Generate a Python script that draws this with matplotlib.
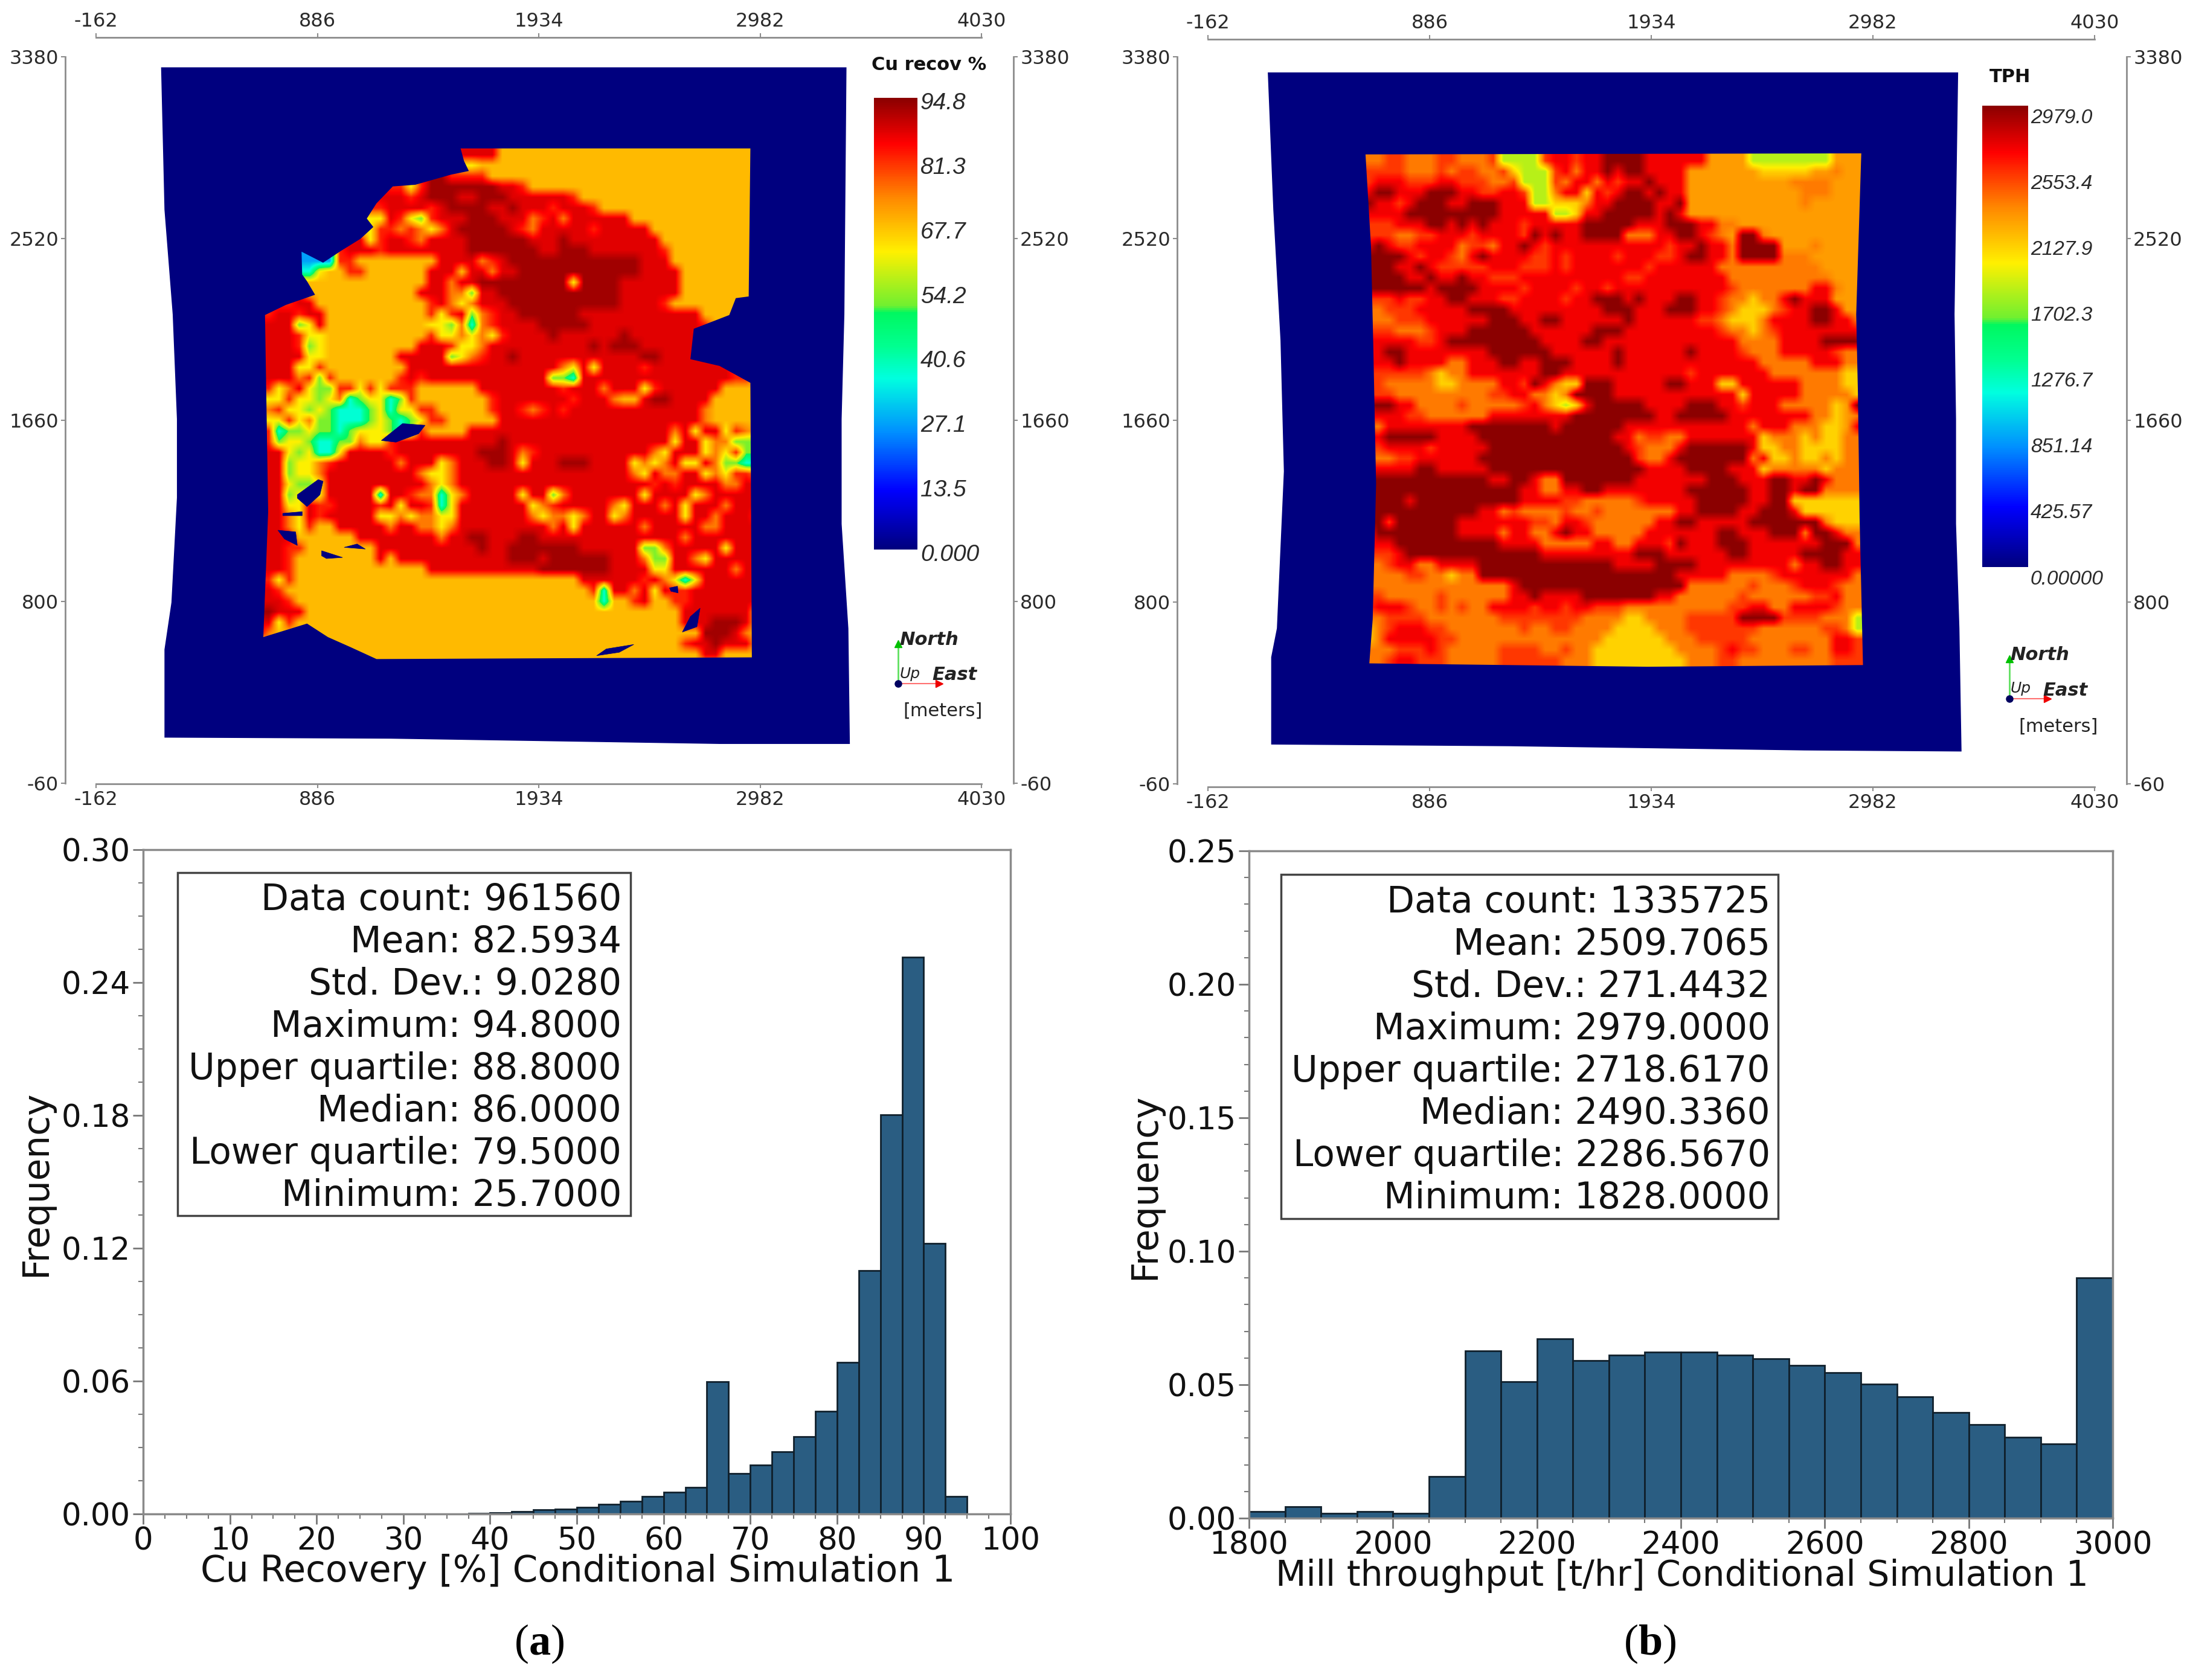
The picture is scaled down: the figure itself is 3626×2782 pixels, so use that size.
import numpy as np
import matplotlib
matplotlib.use("Agg")
import matplotlib.pyplot as plt
from matplotlib.colors import LinearSegmentedColormap, Normalize
from matplotlib.cm import ScalarMappable
from matplotlib.lines import Line2D
from matplotlib.patches import Rectangle, Polygon
from matplotlib.ticker import AutoMinorLocator

W, H = 3626, 2782
plt.rcParams['font.family'] = 'DejaVu Sans'
plt.rcParams['axes.unicode_minus'] = False
plt.rcParams['mathtext.fontset'] = 'custom'
plt.rcParams['mathtext.rm'] = 'Liberation Serif'
plt.rcParams['mathtext.bf'] = 'Liberation Serif:bold'

# ---------- data ----------
rec_edges = [37.5 + 2.5 * i for i in range(24)]
rec_freq = [.0003, .0005, .001, .0018, .0022, .003, .0045, .0058, .0078, .0098, .012, .0597,
            .0182, .0222, .028, .0348, .0465, .0684, .110, .1804, .2515, .1222, .0078]
tph_edges = [1800 + 50 * i for i in range(25)]
tph_freq = [.0024, .0044, .0018, .0024, .0018, .0156, .0626, .0511, .0671, .059, .061, .0622,
            .0622, .061, .0598, .0572, .0546, .0503, .0455, .0396, .035, .0303, .0279, .09]

stats_a = ["Data count: 961560", "Mean: 82.5934", "Std. Dev.: 9.0280", "Maximum: 94.8000",
           "Upper quartile: 88.8000", "Median: 86.0000", "Lower quartile: 79.5000", "Minimum: 25.7000"]
stats_b = ["Data count: 1335725", "Mean: 2509.7065", "Std. Dev.: 271.4432", "Maximum: 2979.0000",
           "Upper quartile: 2718.6170", "Median: 2490.3360", "Lower quartile: 2286.5670", "Minimum: 1828.0000"]

map_xticks = [-162, 886, 1934, 2982, 4030]
map_yticks = [-60, 800, 1660, 2520, 3380]
cbar_a = ["94.8", "81.3", "67.7", "54.2", "40.6", "27.1", "13.5", "0.000"]
cbar_b = ["2979.0", "2553.4", "2127.9", "1702.3", "1276.7", "851.14", "425.57", "0.00000"]

outer_a_x = [146, 3391, 3381, 3368, 3368, 3400, 3407, 2791, 1233, 162, 162, 195, 221, 221, 201, 162]
outer_a_y = [3330, 3330, 2160, 1664, 1168, 672, 126, 126, 151, 156, 573, 796, 1292, 1664, 2160, 2656]
outer_b_x = [121, 3385, 3368, 3375, 3375, 3391, 3401, 2659, 1262, 137, 137, 164, 197, 181, 147]
outer_b_y = [3306, 3306, 2162, 1666, 1171, 676, 93, 98, 118, 126, 539, 676, 1419, 2038, 2657]

# outline of the coloured block model in each map
inner_a = [(1564, 2946), (2936, 2946), (2928, 2245), (2867, 2237), (2836, 2157), (2668, 2092), (2652, 1948),
           (2790, 1916), (2936, 1836), (2943, 536), (1166, 528), (1044, 584), (936, 632), (837, 696), (630, 632),
           (653, 1226), (638, 2157), (737, 2205), (875, 2253), (837, 2317), (814, 2349), (811, 2457), (913, 2405),
           (998, 2461), (1090, 2518), (1151, 2574), (1120, 2614), (1166, 2686), (1243, 2766), (1350, 2774),
           (1519, 2822), (1603, 2839), (1580, 2887)]
inner_b = [(583, 2918), (2927, 2923), (2903, 2161), (2911, 1793), (2919, 1200), (2935, 502), (1917, 494),
           (601, 510), (617, 719), (633, 1360), (620, 2001), (609, 2482)]
# unmodelled navy holes inside map (a)
holes_a = [
    [(1189, 1563), (1289, 1643), (1396, 1635), (1365, 1595), (1258, 1555)],
    [(791, 1306), (890, 1378), (913, 1370), (898, 1306), (837, 1250), (791, 1290)],
    [(722, 1218), (814, 1226), (814, 1207), (722, 1207)],
    [(699, 1138), (783, 1130), (791, 1066), (730, 1097)],
    [(906, 1041), (1005, 1009), (929, 1004), (906, 1017)],
    [(1013, 1057), (1074, 1073), (1113, 1049)],
    [(2208, 544), (2254, 576), (2384, 597), (2315, 560)],
    [(2614, 656), (2652, 729), (2698, 769), (2683, 681)],
    [(2553, 865), (2591, 873), (2594, 841), (2560, 849)],
]

# coarse readings of the two block maps, one letter per cell
levels_a = dict(d=.98, R=.925, r=.87, o=.79, O=.72, y=.66, g=.55, c=.39, b=.28)
levels_b = dict(d=1.0, R=.91, r=.85, o=.79, O=.755, y=.695, g=.60)
map_a_rows = """
.......... .......... .......... .......... ..........
.......... .......... .RRROOOOOO OOOOOOOOOO OOOOOOOOOO
.......... .......... .yOOOOOOOO OOOOOOOOOO OOOOOOOOOO
.......... .......... rrrOOOOOOO OOOOOOOOOO OOOOOOOOOO
.......... ....ryrddd ddddRRrOOO OOOOOOOOOO OOOOOOOOOO
.......... ...RRrRddd RRdddRRRRR RrOOOOOOOO OOOOOOOOOO
.......... ..rRRRRrRd dddRRdRRRr RRRrOOOOOO OOOOOOOOOO
.......... .yyRrygrRR RdddRRRorR oRRRRRROOO OOOOOOOOOO
.......... .yrroroyoR dddddRroRR RRRrRRRRRO OOOOOOOOOO
.......... ..rRRroRRR RddddddRRR dRRRRRRRRR OOOOOOOOOO
.......... RRrRRRRRRR RdddddddRR dddRRRRRRR rOOOOOOOOO
.....bb.rr OOOOOOOORR RRorRddddd ddddddddRR ROOOOOOOOO
.....cyOOr rOOOOOORRR ORRoRRdddd ddddddddRR RROOOOOOOO
.....OOOOO OOOOOOORRo RRdddddddd dyddddRRRR RROOOOOOOO
......OOOO OOOOOORRRo ogRRdddddd ddddddRRRR RROOOOOOOO
...rRROOOO OOOOOOOrRo yoRRRddddd ddddddRRRR rOOOOOOOOO
.rRRrRROOO OOOOOOOryr RgorRRdddd ddRRRRRRRR RRRROOOO..
.RRRgyROOO OOOOOOOyyg ocorRRRRdd dddRRRRRRR RRRRr.....
.RRRryyOOO OOOOOOOryy oyoyrRRRRd RRRRRRdRRR RRRR......
.RRRrgyOOO OOOOOORRRr yyoRRRRRRR RRRdRdddRR RRRR......
.RRRRyyOOO OOOORRRRRg yorRRdRRRR RRRRRRRRdd RRRR......
.RRRyyrOOO OOOOORRRRR RRRRRRRRRR oyRyRRRRrR RRRRR.....
.RRRorgrOO OOOOrRrRRR RRRRRRRRRg gcRRRRRRRR RRRRRRRr..
.ryoRyggrr yryrrrOOOO OORRRRRRRR rRRRoRRRyr RRRRRROOOO
.yyryygyoc gyycgrOOOO OOOrRRRRRR RrRRRoOORd dRRRROOOOO
.oryygygcc cgycyyrrOO OOOrRRrorR rRRRRRRRRR RRRRoOOOOO
.yyryoggcc cgygcgyrrO OOOORRRRRR RRRRRRRRRR RRRRoOOOOO
.rcggyggcg yyy...rOOO ORRRRRRRRR RRRRRRRRRR RoRyRRyroO
.rgyygccgg oy....RRRR RRRRdRRRRR RRRRRRRRRR RyRRyooggg
.RRygyccyR RRRrRRRRRR RRdddRorRR RRRRRRRRRo yRRRyoyrgg
.RRgyyorRR RRRRoRRRyo RRRddRyRRR dddRRRRyoy oRyyRoggcc
.RRgyyoRRR RRRRRRoyyo RRRRRRRRRR RRRRRRRoyR ooRRyoyrro
.RRyggyRRR RRRRRRRoyo RRRRRRRRRR RRRRRRRRRr RrRRRRooRR
.RRgyy.... RRcRRroocy oRRRRRyRRg oRRRRRRRyR RRRyoRRRRR
.RRyyRr..R RRrRyRRrcy RRRRRRRyor RRRRRoyRRR oRyRRRoRRR
.RRoy..RRR RRyyoyooyy RRRRRRRoyo oyoRRyoRRR RRyRRoRRRr
.RR..rOORR RRRoRRooyo RRRRRRRRRo RyRRRRRRoR RRRRooRRRR
.RR..OOOOO RRRRRRRRoR RddRRRddRR RRRRRRRRRR RRoRRRRRRR
.RRr.OOOOO OORRRRRRRR RRdRRddddd ddRRRRRRgg oRRRRRyRRR
.RRrOOOOOO O..ORRRRRR RRRRRdddRd dddddRRRog gRRoyRRRRR
.RRrOO...O OOOOOOORRR RRRRRRRRdd dddddRRRRy yRRRRRRoRR
.ryrOOOOOO OOOOOOOOOO OOOOOOOOOO OORRRRRRrR oycyRRRRRR
.RrOOOOOOO OOOOOOOOOO OOOOOOOOOO OOOrcRRoRy RrrRRRRRRR
.RRrOOOOOO OOOOOOOOOO OOOOOOOOOO OOOOcOOrRO Or..RRRRRR
.dRRROOOOO OOOOOOOOOO OOOOOOOOOO OOOOOOOOOO OORRRRRRRO
.RyrOOOOOO OOOOOOOOOO OOOOOOOOOO OOOOOOOOOO OOR..dddRO
RoOOOOOOOO OOOOOOOOOO OOOOOOOOOO OOOOOOOOOO OOO..ddRoO
g.....OOOO OOOOOOOOOO OOOOOOOOOO OOOOOOOOOO OOrRRdRRRO
........OO OOOOOOOOOO OOOOOOOOOO OOOOO...OO OOOORROOOO
.......... ..OOOOOOOO OOOOOOOOOO OOOO..OOOO OOOOOOOOOO
"""
map_b_rows = """
.......... .......... .......... .......... ..........
.oorrooorr ooorggggrR RrRRddddRR RRRROOOOgg ggggggOOO.
.rrrroooro rroorygggr RoRRdRddRR RROOOOOOOy yyyyOOoOO.
.rRRRrrrRR rrroorgggr oRRoRrRRdR RROOOOOOOO OOooooOOO.
.RddRRRddd RRrrRRrggo RRyRrRddRd RROOOOOOOO OOOoooOOO.
.dRRrRdddR RdddRRRggy yyoRRddddR RdOOOOOOOO OOOoOOOOO.
.RRRRddddd ddddRRRRRg gyRRdddddR dROOOOOOOO OOOOOOOOO.
.rrrRRRddR dRdRRRrRRR RRdddddRRR dddRRooOOO OOOOOOOOO.
.rrroorrRR RrRRRRrdRd RRddddoooR RddRroOddo OOOOOOOOO.
.RdRrrRRRR orroRRdRrR RRRRRRRRRR rRRdRRoddd dOOOoOOOO.
.ddddRrRRr oRdRRRRrrR rRRRRrRRRr rRddRRoddd doooOOOOO.
.dddRRdRrr rrrRRRrrrR rRRRRRRRrR RRRRRooooo oooooOOOO.
.ddddRRdRR dRRrrrRRRR RRRRRRrrRR RRRRRRoooo ooooooOOO.
..dddddRdd ddRRRRrRRR RrRRrRRRRR RRRRRRrooo ooooRRoOO.
..rrRrrRRd dRRRrrRRRR rRRdddRdRR RddRRrooyo oRdRRROOO.
..orrrRRRR RddddRRRRR RRRRdddRRR dddRRroyyy orRRddROO.
..oorrrRRR RRRdddRRdd RRRRRRdRRR RRRrroyyyo RRRRddRRo.
..rrooorRR RddddddRRR RRRdddRRRR RRRRRrooyo rRRRRRRRR.
..RRRRrrRd ddddddddRR RRddRRRRRR RRRRRRRooo oRRRRdddd.
..RddRRRRR RRRddddddR RRRRRdRRRR RRdRRRRroo oRRRRRroo.
..RRdRRRRo oRRRddRRdd dRRRRdRRRR RRRRRRRRRo ooooRRRoo.
..rrrrroyo oRRRRRRRdd RRRRRRRRRR RRrRRRRRRR oooooooyy.
..roooooyy ooooRRrdRo yydddRRRRR ddRRRyyRRR RRRooooyy.
..rroooooo ooorrRRooy oddddRRRRR RRRRRRRyRR RRRoooooy.
..ddRRoooo rooooorRoy gyRdddddRR RRdddRRrRR RoooooyOd.
..RRRrrooo oooRRRRRRR RddddddddR RdddddRRRR RRRRooyOo.
..oRRRRRRR RddddddddR ddddddRRRR RRRRRRRRoR RRoooyyOR.
..RdddddRR RRdddddddd dddddRRorr ooRRRRRRRy oooyoyyoo.
..rRRRRrRR RRRddddddd ddddddRroo oRddddddRy yooyyyyoo.
..oorrRRRR RRdddddddd dddddddroo RdddddddoR yyoyyoyoo.
..RRRRddRR RRRddddddd ddddddddRR RRddddRRRy oooooyooo.
..dddddddd dddRRddRoo dddddddRRR RRRRdddRRR ddRRdRooo.
.ddddddddd ddddddRRoo RRddRRRRRR RRddddddRR ddRddoooo.
.ddddRdddd ddddddRRRR rrooooorRR RRRdddddRR ddyyyyyyy.
.ddddddddd ddRRoroooo rooroooooo oRRddddRRd ddRyyyyyy.
.ddrdddddd RRRRRRRrro RRrooooooR RddRRRRRdd dddddoyyy.
.rdddddddd RRRRoRRooR dRRoooooRR RRRRRddRRR dddoddRoo.
.RRRdddddd ddddRRRRoo oooRRooRRR rdRRRdddRR RRRRRdddo.
.rrrRddddd ddddddddRR RRRRRRRddd RRRRRRddRR RRRddddRR.
.oorRRooRR RRdddddddd dddddRRRRd dddRRRRRRR RRoRRddRR.
.oooorrooy oodddddddd dddddddddd dRRRRRoooo rRRRRRRRo.
.ooooooooo oooooRdddd dddddddddd ddooooooro oorRRRroo.
.rroooooro oooooRRdRR RRdddddddR Rooooooroo oooorrRoo.
.rRRRrooro rooRRRRrRR rRRrrroooo oooooorrRR ooRRRRroo.
.oorrrrooo oooorrrrrr rrooooyyoo oorrrrrddd drrrrooog.
.yorRRRrro ooooooroor rooooyyyyo oorrrrrrro ooooorrog.
.yoRRRRRrr oooooooooo ooooyyyyyy ooorrrrroo ooooooRRr.
.ooorrrRro oooorrrroo rooyyyyyyy yoooorRrro oorrooRRr.
.oorRRrrro oooorrrrrr oooyyyyyyy yyooorrooo oooooorrr.
.......... .......... .......... .......... ..........
"""

# ---------- helpers ----------
def box(left, right, top, bottom):
    return [left / W, 1 - bottom / H, (right - left) / W, (bottom - top) / H]

def grid_from(rows, levels):
    """Letter table to values; empty cells take the value of their nearest read cell."""
    lines = [r.replace(' ', '') for r in rows.strip().splitlines()]
    arr = np.full((len(lines), 50), np.nan)
    for i, line in enumerate(lines):
        for j, ch in enumerate(line[:50]):
            if ch in levels:
                arr[i, j] = levels[ch]
    ii, jj = np.indices(arr.shape)
    ok = ~np.isnan(arr)
    vi, vj, vv = ii[ok], jj[ok], arr[ok]
    for i, j in zip(ii[~ok], jj[~ok]):
        arr[i, j] = vv[np.argmin((vi - i) ** 2 + (vj - j) ** 2)]
    return arr

jet_like = LinearSegmentedColormap.from_list("leapfrog", [
    (0.0, "#00007f"), (.13, "#0000ff"), (.26, "#0090ff"), (.378, "#00ffe0"), (.45, "#00ff90"),
    (.525, "#00f860"), (.54, "#70f030"), (.66, "#fff000"), (.78, "#ff8800"), (.90, "#ff0000"),
    (1.0, "#8b0000")])
NAVY = "#00007f"
GREY = "#8c8c8c"
TXT = "#2a2a2a"

fig = plt.figure(figsize=(W / 100, H / 100), dpi=100)

def ftext(x, y, s, **kw):
    fig.text(x / W, 1 - y / H, s, **kw)

def draw_map(rect, spine_out, outer_x, outer_y, rows, levels, extent, inner, holes):
    ax = fig.add_axes(box(*rect))
    ax.fill(outer_x, outer_y, color=NAVY, lw=0)
    im = ax.imshow(grid_from(rows, levels), cmap=jet_like, vmin=0, vmax=1, extent=extent,
                   interpolation='bilinear', aspect='auto', zorder=3)
    clip = Polygon(inner, closed=True, transform=ax.transData)
    im.set_clip_path(clip)
    for h in holes:
        ax.add_patch(Polygon(h, closed=True, fc=NAVY, ec=NAVY, lw=0.5, zorder=4))
    ax.set_xlim(map_xticks[0], map_xticks[-1])
    ax.set_ylim(map_yticks[0], map_yticks[-1])
    ax.set_xticks(map_xticks)
    ax.set_yticks(map_yticks)
    ax.tick_params(top=True, right=True, labeltop=True, labelright=True, length=5, width=1.5,
                   color=GREY, labelsize=23, labelcolor=TXT, pad=3)
    for lab in ax.get_xticklabels() + ax.get_yticklabels():
        lab.set_family('Liberation Sans')
    for side, out in spine_out.items():
        ax.spines[side].set_position(('outward', out * 0.72))
        ax.spines[side].set_color(GREY)
        ax.spines[side].set_linewidth(2)
    return ax

def draw_cbar(rect, vmax, labels, title, title_xy, label_x, offset, fs):
    cax = fig.add_axes(box(*rect))
    cb = fig.colorbar(ScalarMappable(Normalize(0, vmax), jet_like), cax=cax)
    cb.set_ticks([])
    cb.outline.set_visible(False)
    top, bottom = rect[2], rect[3]
    for i, s in enumerate(labels):
        y = top + (bottom - top) * i / (len(labels) - 1) + offset
        ftext(label_x, y, s, ha='left', va='center', style='italic', fontsize=fs,
              family='Liberation Sans', color=TXT)
    ftext(title_xy[0], title_xy[1], title, ha='center', va='center', weight='bold', fontsize=22,
          color='#111111')

def compass(ox, oy, north_tip, east_tip, n_xy, u_xy, e_xy, m_xy):
    fig.add_artist(Line2D([ox / W, ox / W], [1 - oy / H, 1 - north_tip / H], color='#60e060', lw=2))
    fig.add_artist(Line2D([ox / W, east_tip / W], [1 - oy / H, 1 - oy / H], color='#ff7070', lw=1.5))
    fig.add_artist(Line2D([ox / W], [1 - north_tip / H], marker='^', ms=8, color='#00c000', lw=0))
    fig.add_artist(Line2D([east_tip / W], [1 - oy / H], marker='>', ms=8, color='#ee0000', lw=0))
    fig.add_artist(Line2D([ox / W], [1 - oy / H], marker='o', ms=8, color='#000060', lw=0))
    for xy, s, kw in [(n_xy, "North", dict(style='italic', weight='bold')), (u_xy, "Up", dict(style='italic')),
                      (e_xy, "East", dict(style='italic', weight='bold')), (m_xy, "[meters]", {})]:
        ftext(xy[0], xy[1], s, ha='center', va='center', fontsize=22 if s != "Up" else 18,
              color='#222222', **kw)

def draw_hist(rect, edges, freq, xlim, ylim, xt, yt, yfmt, ydiv, xlabel, xlabel_xy, xl_fs, ylab_xy,
              stats, box_px, text_right, first_y, step_y, cap, cap_xy):
    ax = fig.add_axes(box(*rect))
    ax.bar(edges[:-1], freq, width=np.diff(edges), align='edge', color='#2a5d82', edgecolor='#10202c', lw=2)
    ax.set_xlim(*xlim)
    ax.set_ylim(*ylim)
    ax.set_xticks(xt)
    ax.set_yticks(yt)
    ax.set_yticklabels([yfmt % v for v in yt])
    ax.xaxis.set_minor_locator(AutoMinorLocator(4))
    ax.yaxis.set_minor_locator(AutoMinorLocator(ydiv))
    ax.tick_params(which='major', length=12, width=2, color='#777777', labelsize=37, labelcolor='#111111', pad=3)
    ax.tick_params(which='minor', length=6, width=1.5, color='#777777')
    for s in ax.spines.values():
        s.set_color('#8a8a8a')
        s.set_linewidth(2.5)
    ftext(xlabel_xy[0], xlabel_xy[1], xlabel, ha='center', va='center', fontsize=xl_fs, color='#111111')
    ftext(ylab_xy[0], ylab_xy[1], "Frequency", ha='center', va='center', rotation=90, fontsize=43, color='#111111')
    l, r, t, b = box_px
    fig.add_artist(Rectangle((l / W, 1 - b / H), (r - l) / W, (b - t) / H, transform=fig.transFigure,
                             fc='white', ec='#444444', lw=2.5, zorder=5))
    for i, s in enumerate(stats):
        ftext(text_right, first_y + i * step_y, s, ha='right', va='center', fontsize=43, color='#111111', zorder=6)
    ftext(cap_xy[0], cap_xy[1], cap, ha='center', va='center', fontsize=52, color='black')

# ---------- maps ----------
draw_map((159, 1625, 94, 1297), dict(left=51, right=53, top=32, bottom=1), outer_a_x, outer_a_y,
         map_a_rows, levels_a, (584, 2986, 475, 2991), inner_a, holes_a)
draw_cbar((1447, 1519, 162, 910), 94.8, cbar_a, "Cu recov %", (1538, 107), 1524, 9, 28)
compass(1487, 1132, 1066, 1555, (1538, 1060), (1507, 1116), (1580, 1118), (1561, 1177))

draw_map((2000, 3468, 94, 1298), dict(left=51, right=53, top=29, bottom=5), outer_b_x, outer_b_y,
         map_b_rows, levels_b, (523, 2979, 449, 2963), inner_b, [])
draw_cbar((3282, 3358, 175, 939), 2979.0, cbar_b, "TPH", (3328, 128), 3362, 20, 24)
compass(3327, 1157, 1091, 3390, (3377, 1085), (3346, 1140), (3419, 1143), (3408, 1203))

# ---------- histograms ----------
draw_hist((237, 1673, 1407, 2507), rec_edges, rec_freq, (0, 100), (0, .30), list(range(0, 101, 10)),
          [0, .06, .12, .18, .24, .30], "%.2f", 4, "Cu Recovery [%] Conditional Simulation 1",
          (957, 2603), 43, (60, 1960), stats_a, (294, 1044, 1445, 2013), 1029, 1491, 69.9,
          r"$(\mathbf{a})$", (893, 2722))
draw_hist((2068, 3498, 1409, 2514), tph_edges, tph_freq, (1800, 3000), (0, .25), list(range(1800, 3001, 200)),
          [0, .05, .10, .15, .20, .25], "%.2f", 5, "Mill throughput [t/hr] Conditional Simulation 1",
          (2785, 2610), 42, (1896, 1965), stats_b, (2121, 2944, 1448, 2018), 2931, 1495, 69.9,
          r"$(\mathbf{b})$", (2732, 2722))

fig.savefig("out.png", dpi=100, facecolor='white')
